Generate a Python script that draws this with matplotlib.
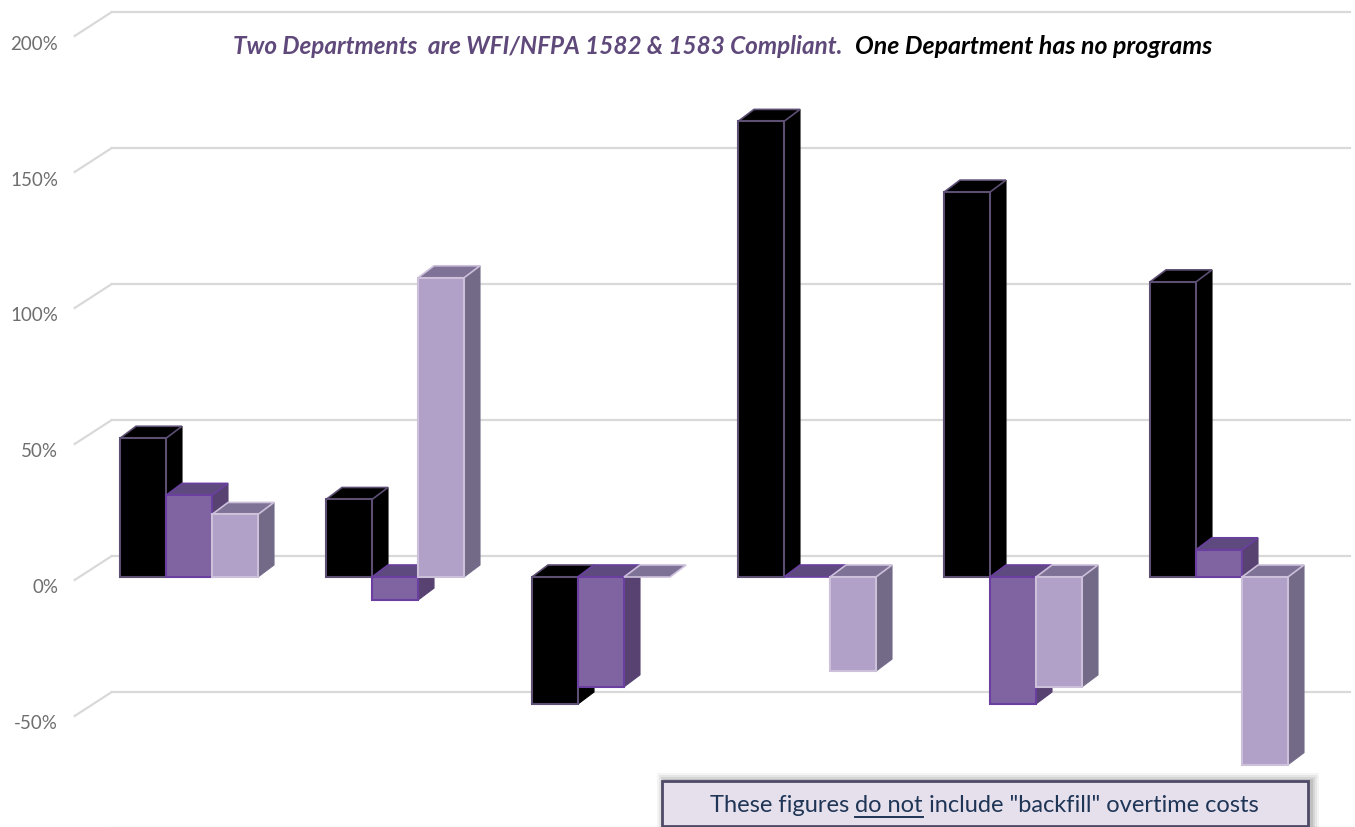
import matplotlib
matplotlib.use('Agg')
import matplotlib.pyplot as plt
from matplotlib.patches import Polygon, Rectangle

plt.rcParams['font.family'] = ['Lato', 'DejaVu Sans']

#data (front face of each bar, in percent)
groups = [0, 1, 2, 3, 4, 5]
black_vals = [51, 28.5, -46.7, 167.5, 141.5, 108.5]
purple_vals = [30, -8.5, -40.4, 0, -46.7, 10]
light_vals = [23, 110, 0, -34.6, -40.4, -69]
grid_vals = [200, 150, 100, 50, 0, -50, -100]
tick_vals = [200, 150, 100, 50, 0, -50]
tick_labels = ['200%', '150%', '100%', '50%', '0%', '-50%']

W, H = 1355, 828
#pixels per unit for the two axes
px_x = 206
px_y = 2.72
bar_w = 46 / px_x
depth_x = 16 / px_x
depth_y = 12 / px_y

fig = plt.figure(figsize=(W / 100, H / 100), dpi=100, facecolor='white')
ax = fig.add_axes([0, 0, 1, 1])
ax.set_xlim(-189 / px_x, (W - 189) / px_x)
ax.set_ylim(-(H - 578) / px_y, 578 / px_y)
ax.axis('off')

#wall and floor lines
wall_y = 21 / px_y
for g in grid_vals:
    ax.plot([-0.375, 5.635], [g + wall_y, g + wall_y], color='#d9d9d9', lw=1.6, zorder=1)
    ax.plot([-0.555, -0.375], [g + wall_y - 24 / px_y, g + wall_y], color='#d9d9d9', lw=1.6, zorder=1)

for v, lab in zip(tick_vals, tick_labels):
    ax.text(-0.635, v - 10 / px_y, lab, ha='right', va='center', fontsize=13.5, color='#6e6e6e', zorder=2)


def bar3d(x, v, front, top, side, edge, z):
    top_y = max(v, 0)
    low_y = min(v, 0)
    #side first, then top, then front
    if v != 0:
        ax.add_patch(Polygon([(x + bar_w, low_y), (x + bar_w + depth_x, low_y + depth_y),
                              (x + bar_w + depth_x, top_y + depth_y), (x + bar_w, top_y)],
                             fc=side, ec=side, lw=0.8, zorder=z))
    ax.add_patch(Polygon([(x, top_y), (x + depth_x, top_y + depth_y),
                          (x + bar_w + depth_x, top_y + depth_y), (x + bar_w, top_y)],
                         fc=top, ec=edge, lw=1.2, zorder=z))
    if v != 0:
        ax.add_patch(Rectangle((x, low_y), bar_w, top_y - low_y, fc=front, ec=edge, lw=1.5, zorder=z + 0.1))


z = 3
for i in groups:
    bar3d(i - 1.5 * bar_w, black_vals[i], '#000000', '#000000', '#000000', '#5d4f73', z)
    bar3d(i - 0.5 * bar_w, purple_vals[i], '#8064a2', '#5f4a80', '#574272', '#6a3fa0', z + 1)
    bar3d(i + 0.5 * bar_w, light_vals[i], '#b1a0c7', '#7f7297', '#736a88', '#ccc0da', z + 2)
    z += 3

#title, two pieces in two colours
fig.text(233 / W, 1 - 46 / H, 'Two Departments  are WFI/NFPA 1582 & 1583 Compliant.', fontsize=17.5,
         style='italic', weight='bold', color='#5f497a', va='center', ha='left')
fig.text(855 / W, 1 - 46 / H, 'One Department has no programs', fontsize=17.9,
         style='italic', weight='bold', color='#000000', va='center', ha='left')

#note box with soft shadow
for k, a in zip([8, 6, 4, 2], [0.06, 0.08, 0.1, 0.14]):
    fig.patches.append(Rectangle(((662 - k + 3) / W, 0), (646 + 2 * k) / W, (828 - 782 + k) / H,
                                 transform=fig.transFigure, fc='#444444', ec='none', alpha=a, zorder=20))
fig.patches.append(Rectangle((662 / W, 0.001), 646 / W, (828 - 783) / H, transform=fig.transFigure,
                             fc='#e6e0ec', ec='#4f4a68', lw=2, zorder=21))

#text pieces placed one after another so "do not" can carry an underline
pieces = ['These figures ', 'do not', ' include "backfill" overtime costs']
renderer = fig.canvas.get_renderer()
px = 710
for p in pieces:
    t = fig.text(px / W, 1 - 806 / H, p.replace(' ', '\u00a0'), fontsize=17, color='#1f3556',
                 va='center', ha='left', zorder=22)
    bb = t.get_window_extent(renderer)
    if p == 'do not':
        fig.add_artist(plt.Line2D([bb.x0 / W, bb.x1 / W], [1 - 818 / H, 1 - 818 / H], color='#1f3556', lw=1.4, zorder=22))
    px = bb.x1

fig.savefig('out.png', dpi=100)
